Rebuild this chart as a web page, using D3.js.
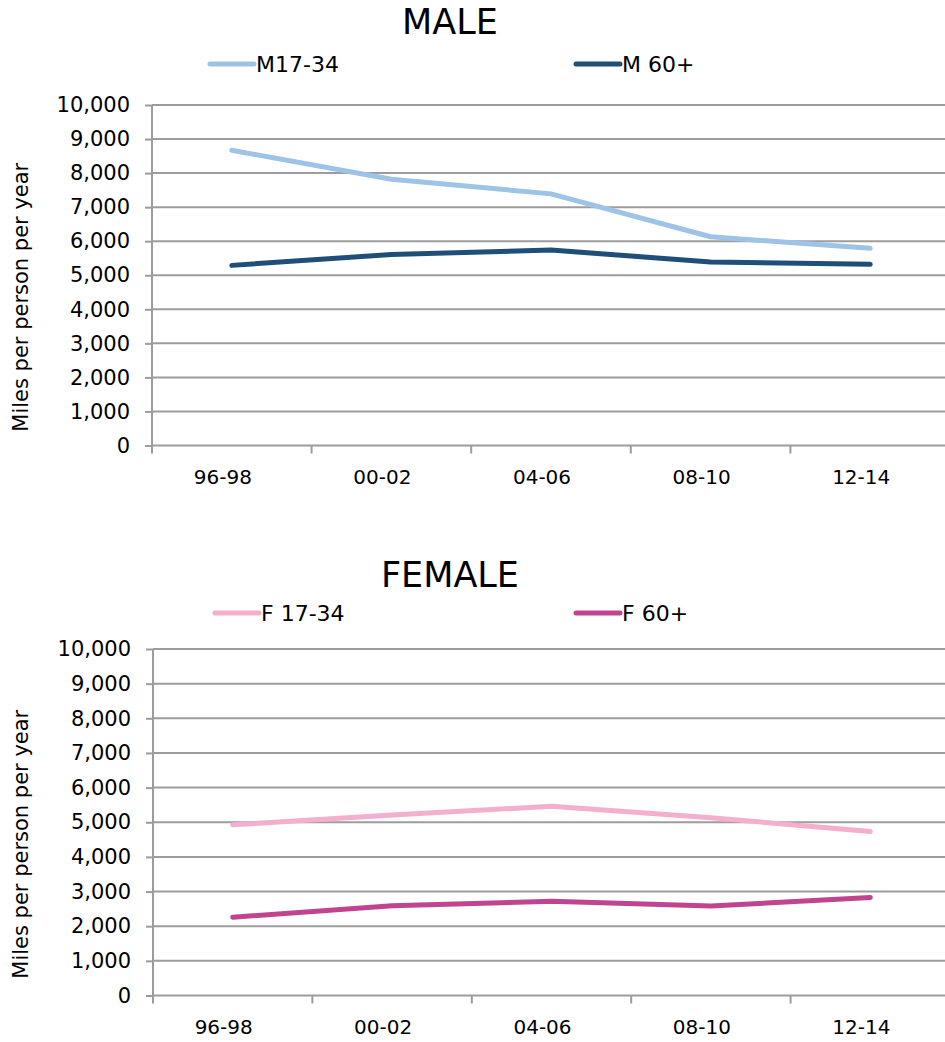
<!DOCTYPE html>
<html>
<head>
<meta charset="utf-8">
<script src="https://cdn.jsdelivr.net/npm/d3@7/dist/d3.min.js"></script>
<style>
  html, body { margin: 0; padding: 0; background: #fff; }
  svg text { font-family: "DejaVu Sans", Verdana, sans-serif; fill: #000; }
</style>
</head>
<body>
<svg id="chart" width="945" height="1042"></svg>
<script>
// Survey periods on the x axis
const periods = ["96-98", "00-02", "04-06", "08-10", "12-14"];
// Y axis ticks (miles per person per year)
const yTicks = [0, 1000, 2000, 3000, 4000, 5000, 6000, 7000, 8000, 9000, 10000];

// Male series
const male17to34 = [8670, 7820, 7390, 6130, 5790];
const male60plus = [5290, 5610, 5740, 5390, 5320];
// Female series
const female17to34 = [4925, 5210, 5460, 5130, 4730];
const female60plus = [2260, 2590, 2720, 2580, 2830];

const panels = [
  {
    title: "MALE", titleY: 34, legendY: 64,
    top: 105, bottom: 445.5, left: 152, right: 950,
    series: [
      { name: "M17-34", values: male17to34, color: "#9DC3E6", lx: 210 },
      { name: "M 60+", values: male60plus, color: "#1F4E79", lx: 576 }
    ]
  },
  {
    title: "FEMALE", titleY: 587, legendY: 613,
    top: 649, bottom: 995.5, left: 153, right: 950,
    series: [
      { name: "F 17-34", values: female17to34, color: "#F4AECE", lx: 215 },
      { name: "F 60+", values: female60plus, color: "#C0448F", lx: 576 }
    ]
  }
];

const svg = d3.select("#chart");
const fmt = d3.format(",");
const gridColor = "#9c9c9c";

panels.forEach(p => {
  const g = svg.append("g");

  const x = d3.scaleBand().domain(periods).range([p.left, p.right]);
  const y = d3.scaleLinear().domain([0, 10000]).range([p.bottom, p.top]);

  // Title
  g.append("text")
    .attr("x", 450).attr("y", p.titleY)
    .attr("text-anchor", "middle")
    .style("font-size", "35px")
    .text(p.title);

  // Legend
  p.series.forEach(s => {
    g.append("line")
      .attr("x1", s.lx).attr("x2", s.lx + 44)
      .attr("y1", p.legendY).attr("y2", p.legendY)
      .attr("stroke", s.color).attr("stroke-width", 5)
      .attr("stroke-linecap", "round");
    g.append("text")
      .attr("x", s.lx + 46).attr("y", p.legendY)
      .attr("dy", "0.36em")
      .style("font-size", "22px")
      .text(s.name);
  });

  // Horizontal gridlines
  g.append("g")
    .selectAll("line")
    .data(yTicks.filter(t => t > 0))
    .join("line")
    .attr("x1", p.left).attr("x2", p.right)
    .attr("y1", d => y(d)).attr("y2", d => y(d))
    .attr("stroke", gridColor).attr("stroke-width", 2);

  // Y axis
  const yAxis = g.append("g")
    .attr("transform", `translate(${p.left},0)`)
    .call(d3.axisLeft(y).tickValues(yTicks).tickFormat(fmt).tickSize(7).tickPadding(15));
  yAxis.select(".domain").attr("stroke", gridColor).attr("stroke-width", 2)
    .attr("d", `M0,${p.top}V${p.bottom}`);
  yAxis.selectAll(".tick line").attr("stroke", gridColor).attr("stroke-width", 2);
  yAxis.selectAll(".tick text").style("font-size", "21px").attr("fill", "#000");

  // X axis
  const xAxis = g.append("g")
    .attr("transform", `translate(0,${p.bottom})`)
    .call(d3.axisBottom(x).tickSize(0).tickPadding(24));
  xAxis.select(".domain").attr("stroke", gridColor).attr("stroke-width", 2)
    .attr("d", `M${p.left},0H${p.right}`);
  xAxis.selectAll(".tick text").style("font-size", "20px").attr("fill", "#000").attr("dx", -9);
  // Category boundary ticks
  g.append("g")
    .selectAll("line")
    .data(periods)
    .join("line")
    .attr("x1", d => x(d)).attr("x2", d => x(d))
    .attr("y1", p.bottom).attr("y2", p.bottom + 8)
    .attr("stroke", gridColor).attr("stroke-width", 2);

  // Axis title
  g.append("text")
    .attr("transform", `translate(28,${(p.top + p.bottom) / 2 + 22}) rotate(-90)`)
    .attr("text-anchor", "middle")
    .style("font-size", "21px")
    .text("Miles per person per year");

  // Series lines
  const line = d3.line()
    .x((d, i) => x(periods[i]) + x.bandwidth() / 2)
    .y(d => y(d));
  p.series.forEach(s => {
    g.append("path")
      .datum(s.values)
      .attr("d", line)
      .attr("fill", "none")
      .attr("stroke", s.color)
      .attr("stroke-width", 5)
      .attr("stroke-linecap", "round")
      .attr("stroke-linejoin", "round");
  });
});
</script>
</body>
</html>
